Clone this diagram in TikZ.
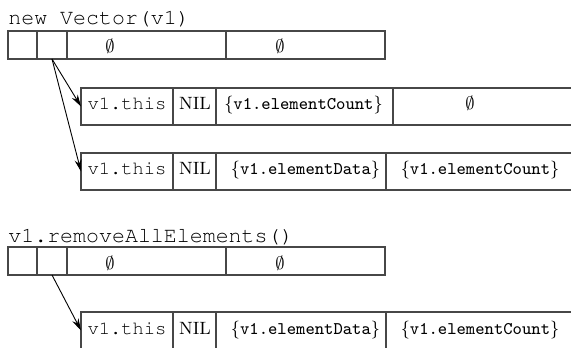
\documentclass[tikz,border=0pt]{standalone}
\usepackage[T1]{fontenc}
\usepackage{fontspec}
\newcommand\mycour{\fontencoding{T1}\fontfamily{pcr}\selectfont}
\usetikzlibrary{arrows.meta}
\begin{document}
\begin{tikzpicture}[x=0.5pt,y=-0.5pt,
  cell/.style={draw=black!72, line width=0.55pt, inner sep=0pt, outer sep=0pt,
    anchor=north west, minimum width=#1*0.5pt},
  arr/.style={cell=#1, minimum height=14pt},
  rec/.style={cell=#1, minimum height=18.5pt},
  title/.style={anchor=base west, inner sep=0pt, font=\fontsize{10.8}{12}\mycour},
  txt/.style={anchor=base, inner sep=0pt, font=\fontsize{8.9}{10}\selectfont},
  cou/.style={anchor=base, inner sep=0pt, font=\fontsize{9.4}{11}\mycour},
  ptr/.style={draw=black, line width=0.45pt, -{Stealth[length=6pt,width=3.4pt]}}]
\useasboundingbox (0,0) rectangle (571,347);
\clip (0,0) rectangle (571,347);

% ---------- new Vector(v1) ----------
\node[title] (t1) at (8,25) {new Vector(v1)};
\node[arr=29]  (a1) at (8,31)   {};
\node[arr=30]  (a2) at (37,31)  {};
\node[arr=159] (a3) at (67,31)  {};
\node[arr=159] (a4) at (226,31) {};
\node[txt] (e1) at (110,53) {$\emptyset$};
\node[txt] (e2) at (280,53) {$\emptyset$};

% record 1
\node[rec=92]  (r1a) at (81,88)  {};
\node[rec=43]  (r1b) at (173,88) {};
\node[rec=177] (r1c) at (216,88) {};
\node[rec=220] (r1d) at (393,88) {};
\node[cou] (r1at) at (127,110) {v1.this};
\node[txt] (r1bt) at (195,110) {NIL};
\node[txt] (r1ct) at (303.5,110) {\{\texttt{v1.elementCount}\}};
\node[txt] (r1dt) at (470,110) {$\emptyset$};

% record 2
\node[rec=92]  (r2a) at (81,153)  {};
\node[rec=43]  (r2b) at (173,153) {};
\node[rec=170] (r2c) at (216,153) {};
\node[rec=220] (r2d) at (386,153) {};
\node[cou] (r2at) at (127,175) {v1.this};
\node[txt] (r2bt) at (195,175) {NIL};
\node[txt] (r2ct) at (305.5,175) {\{\texttt{v1.elementData}\}};
\node[txt] (r2dt) at (480,175) {\{\texttt{v1.elementCount}\}};

\draw[ptr] (a2.south) -- (r1a.west);
\draw[ptr] (a2.south) -- (r2a.west);

% ---------- v1.removeAllElements() ----------
\node[title] (t2) at (8,242) {v1.removeAllElements()};
\node[arr=29]  (b1) at (8,247)   {};
\node[arr=30]  (b2) at (37,247)  {};
\node[arr=159] (b3) at (67,247)  {};
\node[arr=159] (b4) at (226,247) {};
\node[txt] (f1) at (110,269) {$\emptyset$};
\node[txt] (f2) at (280,269) {$\emptyset$};

% record 3
\node[rec=92]  (r3a) at (81,312)  {};
\node[rec=43]  (r3b) at (173,312) {};
\node[rec=170] (r3c) at (216,312) {};
\node[rec=220] (r3d) at (386,312) {};
\node[cou] (r3at) at (127,334) {v1.this};
\node[txt] (r3bt) at (195,334) {NIL};
\node[txt] (r3ct) at (305.5,334) {\{\texttt{v1.elementData}\}};
\node[txt] (r3dt) at (480,334) {\{\texttt{v1.elementCount}\}};

\draw[ptr] (b2.south) -- (r3a.west);
\end{tikzpicture}
\end{document}
